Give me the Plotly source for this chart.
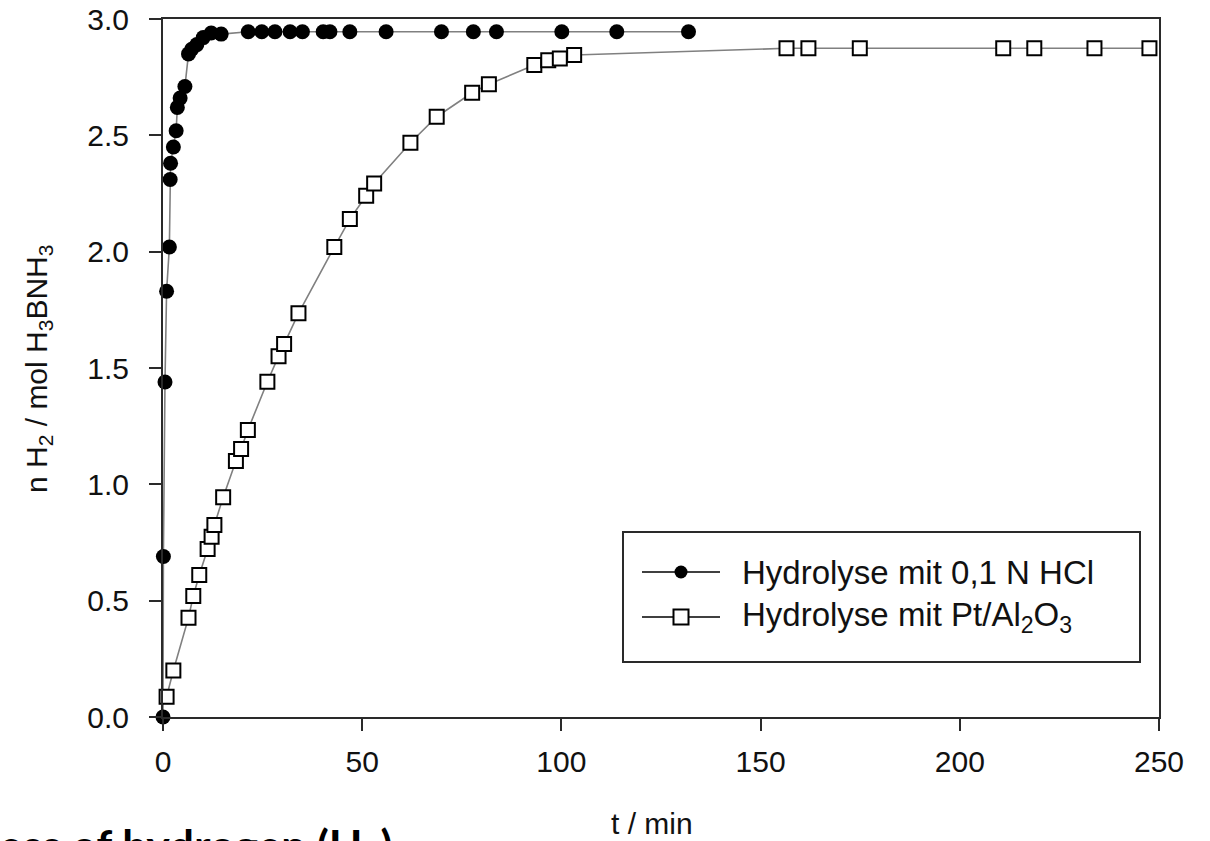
import plotly.graph_objects as go

# ---- data ----
hcl_t = [0, 0.1, 0.5, 0.9, 1.6, 1.8, 1.9, 2.6, 3.3, 3.6, 4.3, 5.5, 6.4, 7.2, 8.5, 10.1, 12.1, 14.6,
         21.4, 24.8, 28.1, 31.9, 35.0, 40.2, 41.9, 46.9, 56.0, 69.9, 77.9, 83.7, 100.1, 113.9, 131.9]
hcl_n = [0, 0.69, 1.44, 1.83, 2.02, 2.31, 2.38, 2.45, 2.52, 2.62, 2.66, 2.71, 2.85, 2.87, 2.89, 2.92, 2.94, 2.935,
         2.945, 2.945, 2.945, 2.945, 2.945, 2.945, 2.945, 2.945, 2.945, 2.945, 2.945, 2.945, 2.945, 2.945, 2.945]

pt_t = [0.9, 2.6, 6.4, 7.6, 9.1, 11.2, 12.2, 12.9, 15.1, 18.3, 19.6, 21.3, 26.2, 29.0, 30.4, 34.0,
        43.0, 46.9, 51.0, 53.0, 62.1, 68.7, 77.6, 81.8, 93.2, 96.7, 99.6, 103.2,
        156.5, 162.0, 174.9, 210.9, 218.7, 233.8, 247.6]
pt_n = [0.087, 0.20, 0.427, 0.52, 0.61, 0.722, 0.775, 0.825, 0.945, 1.10, 1.152, 1.233, 1.441, 1.551, 1.603, 1.735,
        2.02, 2.14, 2.24, 2.293, 2.468, 2.58, 2.683, 2.72, 2.802, 2.823, 2.83, 2.845,
        2.874, 2.874, 2.874, 2.874, 2.874, 2.874, 2.874]

x_ticks = [0, 50, 100, 150, 200, 250]
y_ticks = [0.0, 0.5, 1.0, 1.5, 2.0, 2.5, 3.0]
y_tick_text = ["0.0", "0.5", "1.0", "1.5", "2.0", "2.5", "3.0"]

name_hcl = "Hydrolyse mit 0,1 N HCl"
name_pt = "Hydrolyse mit Pt/Al<sub>2</sub>O<sub>3</sub>"

# ---- layout geometry (pixels) ----
FW, FH = 1210, 841
L, R, T, B = 163, 1159, 19, 717
PW, PH = R - L, B - T


def fx(px):
    return (px - L) / PW


def fy(py):
    return (B - py) / PH


FONT = "Liberation Sans, Arial, sans-serif"
AX = "#2a2a2a"
LINE_GRAY = "#808080"

fig = go.Figure()
fig.add_trace(go.Scatter(
    x=hcl_t, y=hcl_n, mode="lines+markers", name=name_hcl, showlegend=False,
    line=dict(color=LINE_GRAY, width=1.6),
    marker=dict(symbol="circle", size=15, color="black", line=dict(width=0)),
    cliponaxis=False,
))
fig.add_trace(go.Scatter(
    x=pt_t, y=pt_n, mode="lines+markers", name=name_pt, showlegend=False,
    line=dict(color=LINE_GRAY, width=1.6),
    marker=dict(symbol="square", size=14, color="white", line=dict(width=2, color="black")),
    cliponaxis=False,
))

axis_common = dict(
    showline=True, mirror=True, linecolor=AX, linewidth=2,
    ticks="outside", ticklen=12, tickwidth=2, tickcolor=AX,
    showgrid=False, zeroline=False, automargin=False,
    tickfont=dict(family=FONT, size=30, color="#111"),
)
fig.update_xaxes(range=[0, 250], tickvals=x_ticks, ticklabelstandoff=5, **axis_common)
fig.update_yaxes(range=[0, 3], tickvals=y_ticks, ticktext=y_tick_text, ticklabelstandoff=14, **axis_common)

# ---- custom legend ----
shapes = []
shapes.append(dict(type="rect", xref="paper", yref="paper",
                   x0=fx(623), x1=fx(1140), y0=fy(662), y1=fy(532),
                   line=dict(color=AX, width=2), fillcolor="white", layer="below"))
rows = [(572, "circle", name_hcl), (617, "square", name_pt)]
annotations = []
for ry, sym, label in rows:
    shapes.append(dict(type="line", xref="paper", yref="paper",
                       x0=fx(642), x1=fx(720), y0=fy(ry), y1=fy(ry),
                       line=dict(color="black", width=1.6)))
    if sym == "circle":
        r = 6.5
        shapes.append(dict(type="circle", xref="paper", yref="paper",
                           x0=fx(681 - r), x1=fx(681 + r), y0=fy(ry + r), y1=fy(ry - r),
                           line=dict(width=0), fillcolor="black"))
    else:
        r = 7.5
        shapes.append(dict(type="rect", xref="paper", yref="paper",
                           x0=fx(681 - r), x1=fx(681 + r), y0=fy(ry + r), y1=fy(ry - r),
                           line=dict(width=2, color="black"), fillcolor="white"))
    annotations.append(dict(text=label, xref="paper", yref="paper", x=fx(740), y=fy(ry),
                            xanchor="left", yanchor="middle", showarrow=False,
                            font=dict(family=FONT, size=33, color="#111")))

# axis titles
annotations.append(dict(text="n H<sub>2</sub> / mol H<sub>3</sub>BNH<sub>3</sub>", xref="paper", yref="paper",
                        x=fx(38), y=fy(369), textangle=-90, xanchor="center", yanchor="middle",
                        showarrow=False, font=dict(family=FONT, size=30, color="#111")))
annotations.append(dict(text="t / min", xref="paper", yref="paper",
                        x=fx(652), y=fy(823), xanchor="center", yanchor="middle",
                        showarrow=False, font=dict(family=FONT, size=30, color="#111")))
# clipped caption at bottom
annotations.append(dict(text="<b>ess of hydrogen (H<sub>2</sub>)</b>", xref="paper", yref="paper",
                        x=fx(395), y=fy(848), xanchor="right", yanchor="middle",
                        showarrow=False, font=dict(family="Lato, Open Sans, sans-serif", size=44, color="black")))

fig.update_layout(
    width=FW, height=FH, autosize=False,
    margin=dict(l=L, r=FW - R, t=T, b=FH - B, pad=0, autoexpand=False),
    paper_bgcolor="white", plot_bgcolor="white",
    showlegend=False, shapes=shapes, annotations=annotations,
)

fig.write_html("out.html")
